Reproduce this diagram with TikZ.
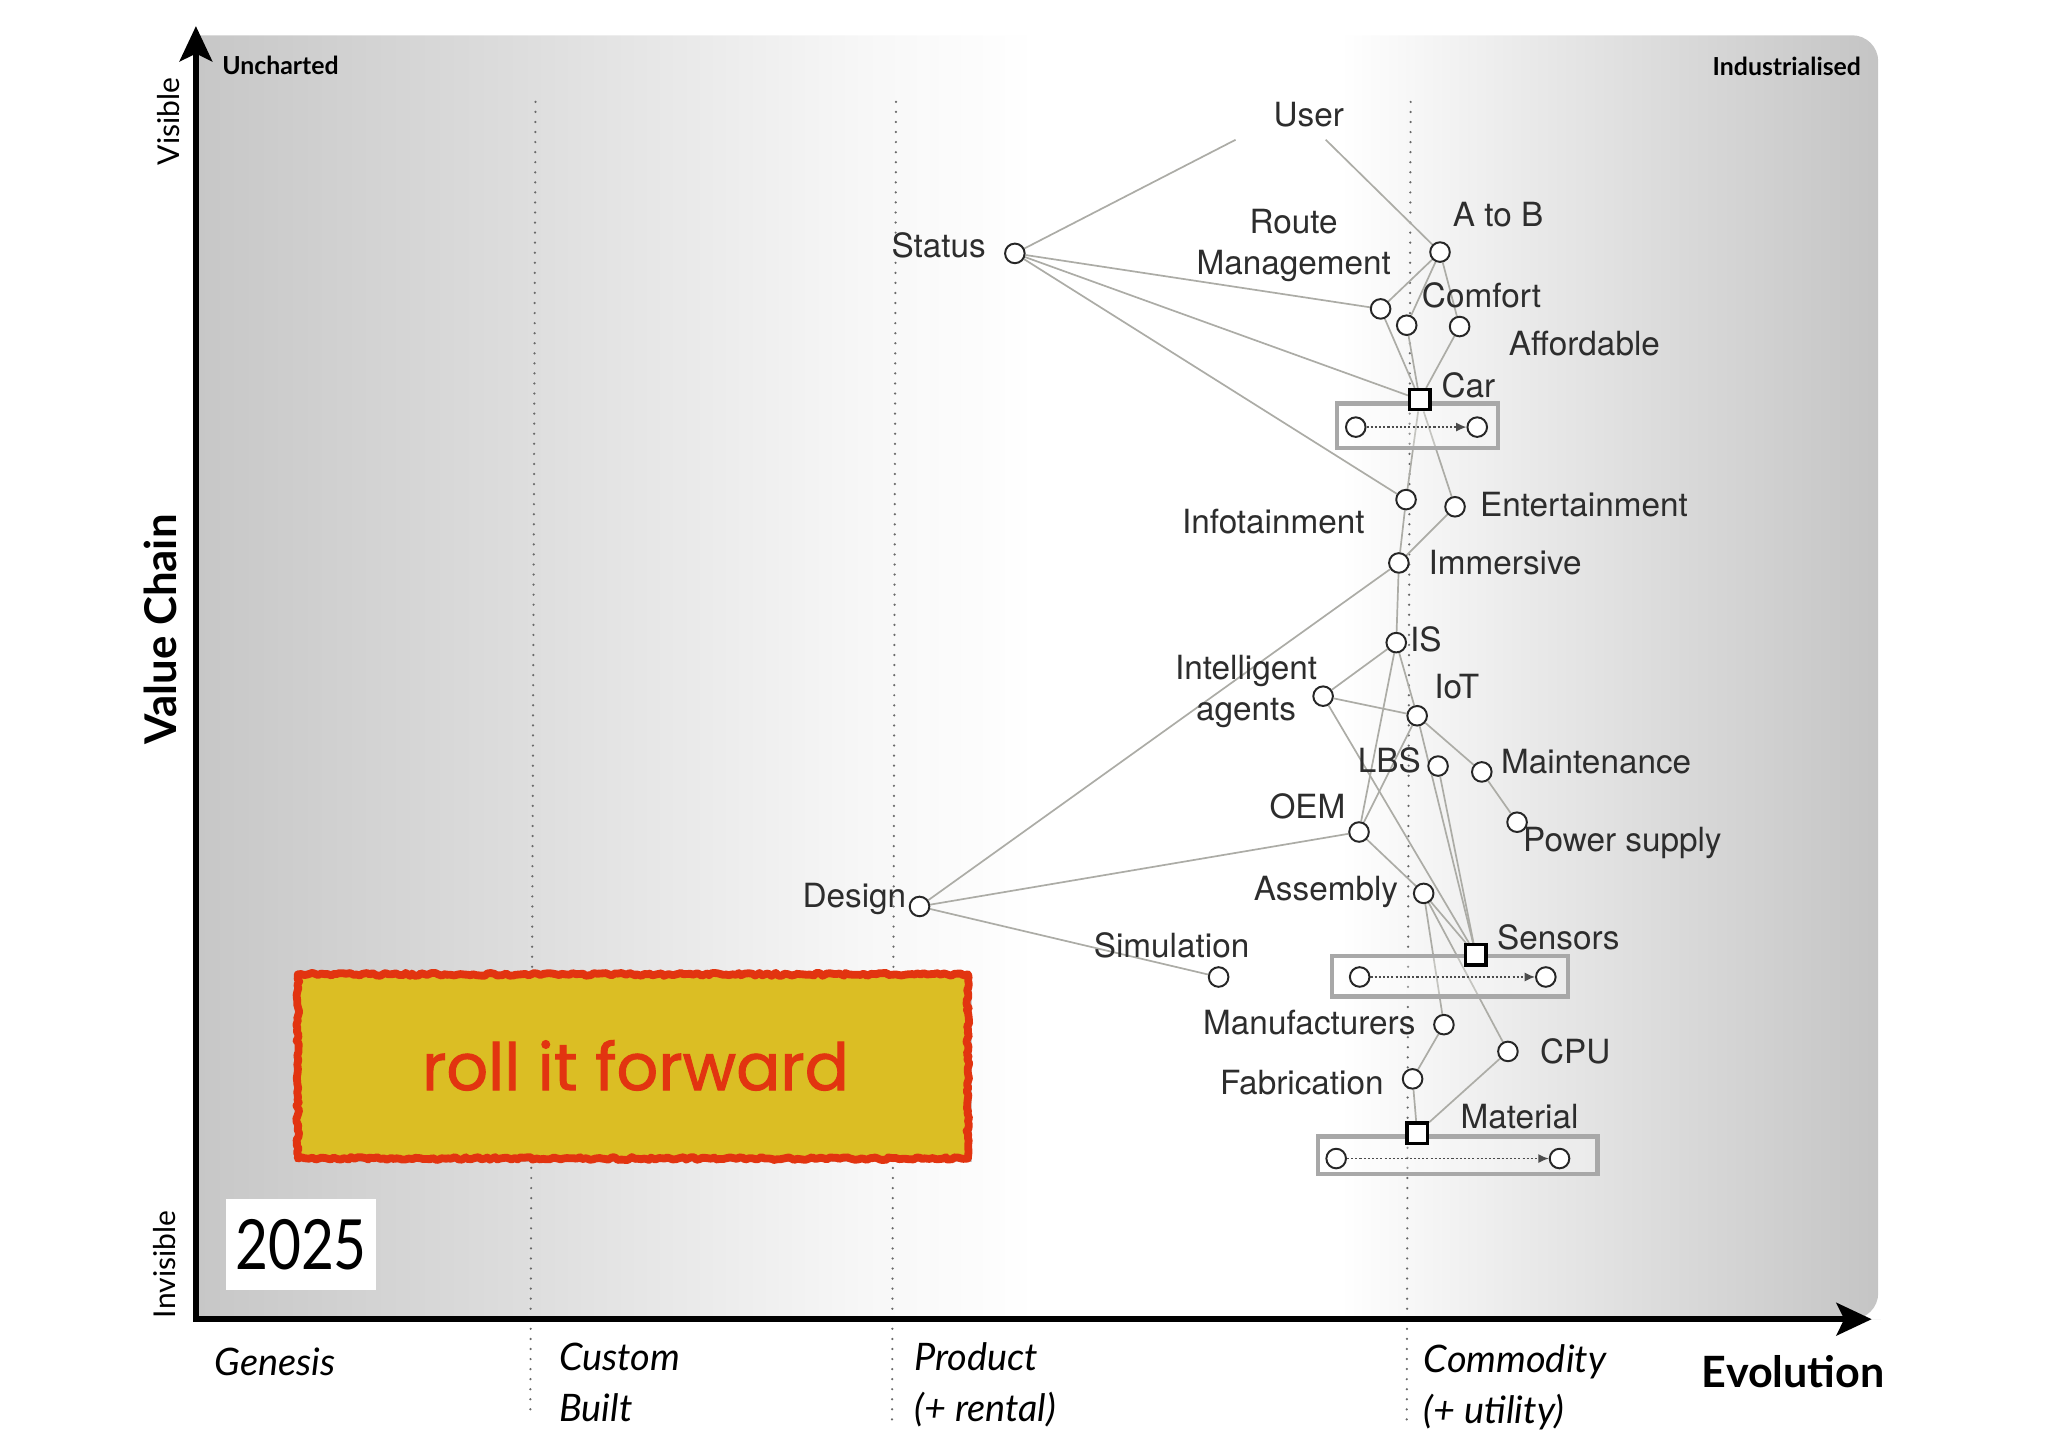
\documentclass[tikz,border=0pt]{standalone}
\usepackage{fontspec}
\setmainfont{TeX Gyre Heros}
\newfontfamily\gillfont{Lato}
\newfontfamily\comicfont[FakeBold=1.5]{Poppins}
\usetikzlibrary{arrows.meta,shadows,decorations.pathmorphing}
\definecolor{linkc}{RGB}{172,172,166}
\definecolor{labc}{RGB}{45,45,45}
\definecolor{evc}{RGB}{168,168,168}
\definecolor{rollfill}{RGB}{219,190,36}
\definecolor{rollred}{RGB}{226,52,16}
\definecolor{dotc}{RGB}{105,105,105}
\pgfdeclarelayer{bg}
\pgfdeclarelayer{links}
\pgfsetlayers{bg,links,main}
\pgfdeclarehorizontalshading{bgshade}{100bp}{rgb(0bp)=(0.78,0.78,0.78); rgb(25bp)=(0.78,0.78,0.78); rgb(35bp)=(0.87,0.87,0.87); rgb(45bp)=(0.97,0.97,0.97); rgb(50bp)=(1,1,1); rgb(59bp)=(1,1,1); rgb(65bp)=(0.91,0.91,0.91); rgb(75bp)=(0.77,0.77,0.77); rgb(100bp)=(0.77,0.77,0.77)}
\begin{document}
\begin{tikzpicture}[x=1pt,y=-1pt,
 dot/.style={circle,draw=black!85,line width=1.5pt,fill=white,minimum size=15pt,inner sep=0pt},
 sq/.style={rectangle,draw=black,line width=2.5pt,fill=white,minimum size=15.5pt,inner sep=0pt},
 link/.style={draw=linkc,line width=1.3pt},
 lbl/.style={font=\fontsize{25.5}{31}\selectfont,text=labc,inner sep=0pt,text height=18.3pt,text depth=0pt},
 lbltwo/.style={font=\fontsize{25.5}{31}\selectfont,text=labc,inner sep=0pt,align=center},
 evbox/.style={draw=evc,line width=3.4pt,fill=white,fill opacity=0.3},
 evarr/.style={draw=black!70,line width=1.1pt,dash pattern=on 1.6pt off 1.6pt,-{Latex[length=8pt,width=7pt]}},
 vline/.style={draw=dotc,line width=1.9pt,line cap=round,dash pattern=on 0pt off 7.7pt},
 axisline/.style={line width=4.3pt,-{Stealth[length=27pt,width=25pt,inset=6pt]}},
 gtxt/.style={font=\gillfont\fontsize{19}{23}\selectfont\bfseries,inner sep=0pt},
 itx/.style={font=\gillfont\fontsize{29}{39}\selectfont\itshape,inner sep=0pt,align=left,anchor=north west}]
\useasboundingbox (0,0) rectangle (1568,1108);
\pgfmathsetseed{7}
% background
\begin{pgfonlayer}{bg}
\shade[shading=bgshade] (150,1010) -- (150,27) -- (1400,27) [rounded corners=20pt] -- (1438,27) -- (1438,1010) -- (1420,1010) [sharp corners] -- (150,1010) -- cycle;
\draw[vline] (410,78) -- (406,1085);
\draw[vline] (686,78) -- (683,1090);
\draw[vline] (1080,78) -- (1077,1090);
\draw[axisline] (150,1012) -- (150,20);
\draw[axisline] (148,1010) -- (1433,1010);
\end{pgfonlayer}
% axis texts
\node[gtxt,anchor=west] (unch) at (170,50) {Uncharted};
\node[gtxt,anchor=east] (indus) at (1425,51) {Industrialised};
\node[font=\gillfont\fontsize{23}{27}\selectfont,rotate=90,inner sep=0pt] (vis) at (129,93) {Visible};
\node[font=\gillfont\fontsize{23}{27}\selectfont,rotate=90,inner sep=0pt] (invis) at (126,968) {Invisible};
\node[font=\gillfont\fontsize{33.5}{40}\selectfont\bfseries,rotate=90,inner sep=0pt] (vc) at (123,482) {Value Chain};
\node[itx,anchor=west] (gen) at (164,1043) {Genesis};
\node[itx] (cust) at (428,1028) {Custom\\Built};
\node[itx] (prod) at (700,1028) {Product\\(+ rental)};
\node[itx] (comm) at (1090,1029.5) {Commodity\\(+ utility)};
\node[font=\gillfont\fontsize{33}{40}\selectfont\bfseries,inner sep=0pt] (evo) at (1373,1050) {Evolution};
% roll it forward box
\fill[rollfill,drop shadow={opacity=0.35,shadow xshift=3pt,shadow yshift=-3pt}] (228,746) -- (741,746) -- (741,887) -- (228,887) -- cycle;
\draw[rollred,line width=6pt,line join=round,line cap=round,decorate,decoration={random steps,segment length=2.5pt,amplitude=1.1pt}] (228,746) -- (741,746) -- (741,887) -- (228,887) -- cycle;
\node[font=\comicfont\fontsize{50}{60}\selectfont,text=rollred,inner sep=0pt,anchor=base] (roll) at (486.5,834.6) {roll it forward};
% year
\node[fill=white,minimum width=115pt,minimum height=70pt,inner sep=0pt,font=\gillfont\fontsize{53}{60}\selectfont,text height=38pt,text depth=0pt] (year) at (230.5,953) {\scalebox{0.82}[1]{2025}};
% evolution boxes
\draw[evbox] (1023.5,309) rectangle (1147,343);
\draw[evbox] (1020,732) rectangle (1200.5,763);
\draw[evbox] (1009,870) rectangle (1223,899);
\node[dot] (carA) at (1038,327) {};
\node[dot] (carB) at (1131,327) {};
\node[dot] (sensA) at (1041,748) {};
\node[dot] (sensB) at (1183.5,748) {};
\node[dot] (matA) at (1023,887) {};
\node[dot] (matB) at (1194,887) {};
\draw[evarr] (carA) -- (carB);
\draw[evarr] (sensA) -- (sensB);
\draw[evarr] (matA) -- (matB);
% components
\node[lbl] (user) at (1002,88) {User};
\coordinate (userL) at (946,107);
\coordinate (userR) at (1015,107);
\node[dot] (st) at (777,194) {};
\node[dot] (atob) at (1102.5,193) {};
\node[dot] (rm) at (1057,236.5) {};
\node[dot] (comf) at (1077,249) {};
\node[dot] (aff) at (1117.5,250) {};
\node[sq] (car) at (1087,306) {};
\node[dot] (info) at (1076.5,382.5) {};
\node[dot] (ent) at (1114,388) {};
\node[dot] (imm) at (1071,431) {};
\node[dot] (is) at (1069,492) {};
\node[dot] (ia) at (1013,533) {};
\node[dot] (iot) at (1085,548) {};
\node[dot] (lbs) at (1101,586.5) {};
\node[dot] (maint) at (1134.5,591) {};
\node[dot] (pow) at (1161.5,629.5) {};
\node[dot] (oem) at (1040.5,637) {};
\node[dot] (des) at (704,694) {};
\node[dot] (asm) at (1090,684) {};
\node[sq] (sens) at (1130,731) {};
\node[dot] (sim) at (933,748) {};
\node[dot] (manu) at (1105.5,784.5) {};
\node[dot] (cpu) at (1154.5,805) {};
\node[dot] (fab) at (1081.5,826) {};
\node[sq] (mat) at (1085,867.5) {};
% labels
\node[lbl,anchor=east] at (755,188) {Status};
\node[lbl] at (1147,164) {A to B};
\node[lbltwo] at (990.5,188) {Route\\Management};
\node[lbl,anchor=west] at (1088.5,226) {Comfort};
\node[lbl,anchor=west] at (1155,263) {Affordable};
\node[lbl,anchor=west] at (1103.5,295) {Car};
\node[lbl,anchor=east] at (1045,399) {Infotainment};
\node[lbl,anchor=west] at (1133,386) {Entertainment};
\node[lbl,anchor=west] at (1093.5,430.5) {Immersive};
\node[lbl,anchor=west] at (1079.5,490) {IS};
\node[lbltwo] at (954,529.5) {Intelligent\\agents};
\node[lbl,anchor=west] at (1098,526) {IoT};
\node[lbl,anchor=east] at (1088,582) {LBS};
\node[lbl,anchor=west] at (1149,583) {Maintenance};
\node[lbl,anchor=west] at (1166,643) {Power supply};
\node[lbl] at (1001,617.5) {OEM};
\node[lbl,anchor=east] at (694,686) {Design};
\node[lbl,anchor=east] at (1070.5,680) {Assembly};
\node[lbl,anchor=west] at (1146,717.5) {Sensors};
\node[lbl] at (897,724) {Simulation};
\node[lbl,anchor=east] at (1084,783) {Manufacturers};
\node[lbl,anchor=west] at (1179,805) {CPU};
\node[lbl,anchor=east] at (1059.5,828.5) {Fabrication};
\node[lbl,anchor=west] at (1118,855) {Material};
% links
\begin{pgfonlayer}{links}
\draw[link] (userL) -- (st);
\draw[link] (userR) -- (atob);
\draw[link] (st) -- (rm);
\draw[link] (st) -- (car);
\draw[link] (st) -- (info);
\draw[link] (atob) -- (rm);
\draw[link] (atob) -- (comf);
\draw[link] (atob) -- (aff);
\draw[link] (rm) -- (car);
\draw[link] (comf) -- (car);
\draw[link] (aff) -- (car);
\draw[link] (car) -- (info);
\draw[link] (car) -- (ent);
\draw[link] (info) -- (imm);
\draw[link] (imm) -- (ent);
\draw[link] (imm) -- (is);
\draw[link] (imm) -- (des);
\draw[link] (is) -- (ia);
\draw[link] (is) -- (iot);
\draw[link] (is) -- (oem);
\draw[link] (ia) -- (iot);
\draw[link] (ia) -- (sens);
\draw[link] (iot) -- (oem);
\draw[link] (iot) -- (maint);
\draw[link] (iot) -- (sens);
\draw[link] (lbs) -- (sens);
\draw[link] (maint) -- (pow);
\draw[link] (oem) -- (des);
\draw[link] (oem) -- (asm);
\draw[link] (des) -- (sim);
\draw[link] (asm) -- (sens);
\draw[link] (asm) -- (manu);
\draw[link] (asm) -- (cpu);
\draw[link] (manu) -- (fab);
\draw[link] (fab) -- (mat);
\draw[link] (cpu) -- (mat);
\end{pgfonlayer}
\end{tikzpicture}
\end{document}
